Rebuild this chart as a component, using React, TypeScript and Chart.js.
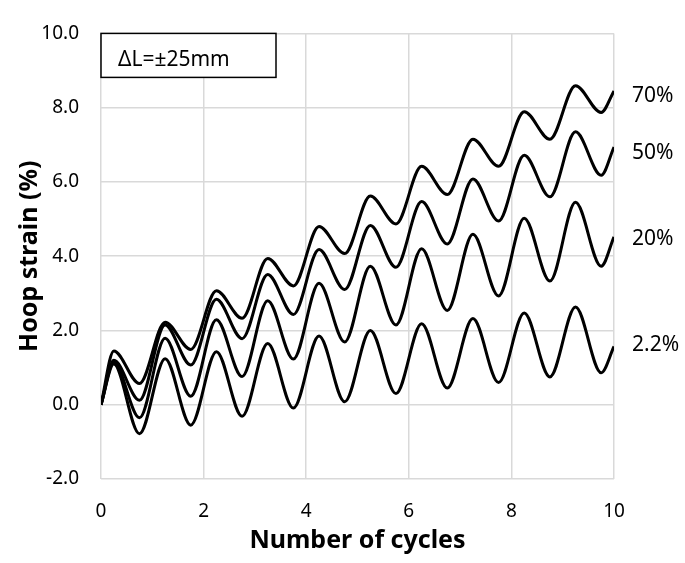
import React, { useEffect, useRef } from "react";
import { Chart, registerables } from "chart.js";

Chart.register(...registerables);

// Number of cycles at which the curves turn (peaks at .25, troughs at .75)
const cycles = [0, 0.25, 0.75, 1.25, 1.75, 2.25, 2.75, 3.25, 3.75, 4.25, 4.75, 5.25, 5.75, 6.25, 6.75, 7.25, 7.75, 8.25, 8.75, 9.25, 9.75, 10];

// Hoop strain (%) per series
const strain70 = [0, 1.45, 0.57, 2.22, 1.49, 3.07, 2.33, 3.94, 3.2, 4.8, 4.07, 5.62, 4.87, 6.42, 5.66, 7.15, 6.42, 7.89, 7.15, 8.59, 7.87, 8.45];
const strain50 = [0, 1.2, 0.12, 2.15, 1.07, 2.84, 1.78, 3.51, 2.43, 4.18, 3.1, 4.83, 3.7, 5.47, 4.33, 6.08, 4.95, 6.72, 5.6, 7.35, 6.18, 6.94];
const strain20 = [0, 1.15, -0.35, 1.79, 0.23, 2.29, 0.76, 2.8, 1.23, 3.27, 1.69, 3.73, 2.15, 4.2, 2.54, 4.59, 2.93, 5.02, 3.33, 5.45, 3.73, 4.52];
const strain22 = [0, 1.1, -0.78, 1.24, -0.55, 1.43, -0.31, 1.65, -0.09, 1.85, 0.08, 2.0, 0.3, 2.18, 0.45, 2.32, 0.6, 2.47, 0.75, 2.63, 0.86, 1.57];

const seriesNames = ["70%", "50%", "20%", "2.2%"];
const labelValues = [8.36, 6.83, 4.5, 1.64];

const yTicks = [-2, 0, 2, 4, 6, 8, 10];
const xTicks = [0, 2, 4, 6, 8, 10];
const boxText = "ΔL=±25mm";
const xTitle = "Number of cycles";
const yTitle = "Hoop strain (%)";

const FONT = "'Noto Sans', sans-serif";

export default function App() {
  const ref = useRef<HTMLCanvasElement>(null);

  useEffect(() => {
    document.body.style.margin = "0";
    const all = [strain70, strain50, strain20, strain22];

    const annotations = {
      id: "annotations",
      afterDraw(chart: any) {
        const { ctx, chartArea } = chart;
        const yScale = chart.scales.y;
        ctx.save();
        // text box
        const bx = chartArea.left;
        const by = chartArea.top;
        ctx.fillStyle = "#fff";
        ctx.fillRect(bx, by, 175, 44);
        ctx.strokeStyle = "#000";
        ctx.lineWidth = 1.5;
        ctx.strokeRect(bx, by, 175, 44);
        ctx.fillStyle = "#000";
        ctx.font = `21px ${FONT}`;
        ctx.textAlign = "left";
        ctx.textBaseline = "alphabetic";
        ctx.fillText(boxText, bx + 17, by + 33);
        // series labels
        seriesNames.forEach((name, i) => {
          const py = yScale.getPixelForValue(labelValues[i]);
          ctx.fillText(name, chartArea.right + 18, py + 7.5);
        });
        ctx.restore();
      },
    };

    const chart = new Chart(ref.current!, {
      type: "line",
      data: {
        datasets: all.map((s, i) => ({
          label: seriesNames[i],
          data: cycles.map((x, j) => ({ x, y: s[j] })),
          borderColor: "#000",
          backgroundColor: "#000",
          borderWidth: 3,
          pointRadius: 0,
          cubicInterpolationMode: "monotone" as const,
          fill: false,
        })),
      },
      options: {
        responsive: false,
        animation: false,
        layout: { padding: { top: 15, right: 71, left: 0, bottom: 0 } },
        plugins: { legend: { display: false }, tooltip: { enabled: false } },
        scales: {
          x: {
            type: "linear",
            min: 0,
            max: 10,
            afterBuildTicks: (s: any) => {
              s.ticks = xTicks.map((v) => ({ value: v }));
            },
            ticks: { padding: 21, color: "#000", font: { family: FONT, size: 19 } },
            grid: { color: "#d9d9d9", lineWidth: 1.5, drawTicks: false },
            border: { display: false },
            title: {
              display: true,
              text: xTitle,
              color: "#000",
              font: { family: FONT, size: 25, weight: "bold" },
              padding: { top: 0, bottom: 7 },
            },
            afterFit: (s: any) => {
              s.height = 84;
            },
          },
          y: {
            type: "linear",
            min: -2,
            max: 10,
            afterBuildTicks: (s: any) => {
              s.ticks = yTicks.map((v) => ({ value: v }));
            },
            ticks: {
              padding: 22,
              color: "#000",
              font: { family: FONT, size: 19 },
              callback: (v: any) => Number(v).toFixed(1),
            },
            grid: { color: "#d9d9d9", lineWidth: 1.5, drawTicks: false },
            border: { display: false },
            title: {
              display: true,
              text: yTitle,
              color: "#000",
              font: { family: FONT, size: 25, weight: "bold" },
              padding: { top: 15, bottom: 0 },
            },
            afterFit: (s: any) => {
              s.width = 101;
            },
          },
        },
      },
      plugins: [annotations],
    });
    return () => chart.destroy();
  }, []);

  return (
    <div style={{ position: "absolute", left: 0, top: 0, width: 685, height: 563 }}>
      <canvas ref={ref} width={685} height={563} style={{ display: "block" }} />
    </div>
  );
}
